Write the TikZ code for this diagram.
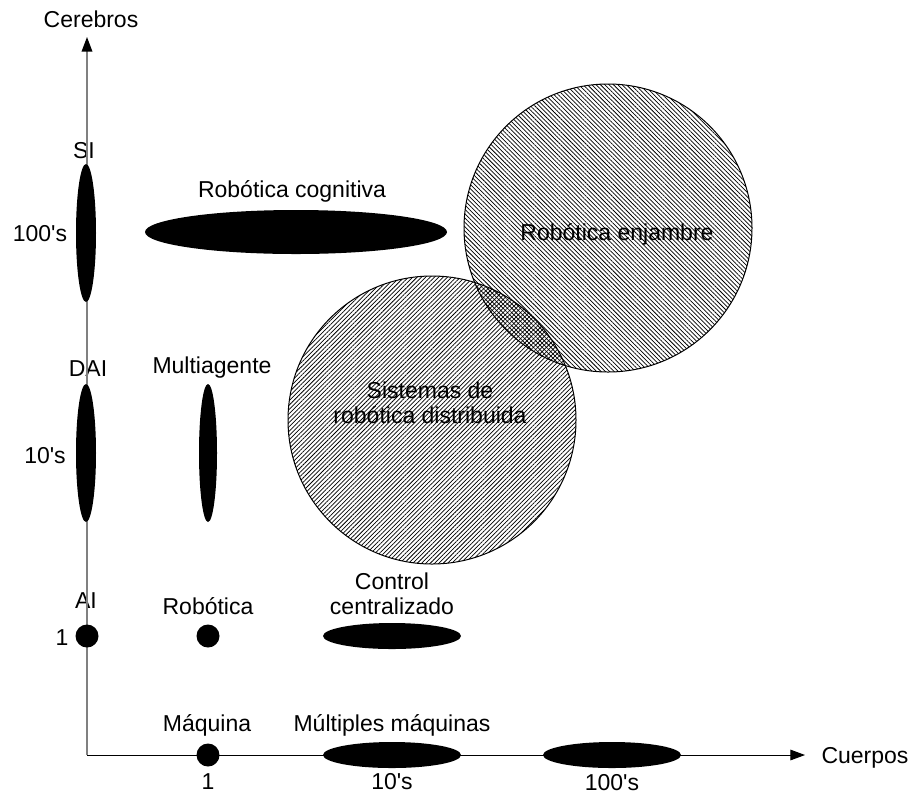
\documentclass[tikz,border=0pt]{standalone}
\usepackage{fontspec}
\setmainfont{Liberation Sans}
\usetikzlibrary{shapes.geometric,patterns.meta,arrows.meta}
\begin{document}
\begin{tikzpicture}[x=0.75pt,y=-0.75pt,
  lbl/.style={anchor=base,inner sep=0pt,font=\fontsize{17.25}{25}\selectfont},
  blob/.style={ellipse,fill=black,inner sep=0pt},
  vblob/.style={blob,minimum width=15pt,minimum height=103.5pt},
  hblob/.style={blob,minimum width=103.5pt,minimum height=19.5pt},
  dot/.style={circle,fill=black,inner sep=0pt,minimum size=17.25pt},
  area/.style={circle,draw=black,line width=0.75pt,inner sep=0pt,minimum size=216pt},
  tip/.style={-{Triangle[length=11pt,width=8pt,color=black]}}]
\useasboundingbox (0,0) rectangle (913,794);
% labels
\node[lbl] (cerebros) at (91,27) {Cerebros};
\node[lbl] (cuerpos) at (865,763) {Cuerpos};
\node[lbl] (si) at (84,158) {SI};
\node[lbl] (dai) at (88,376) {DAI};
\node[lbl] (ai) at (86,608) {AI};
\node[lbl] (y100) at (40,241) {100\textquotesingle s};
\node[lbl] (y10) at (45,463) {10\textquotesingle s};
\node[lbl] (y1) at (62,645) {1};
\node[lbl] (x1) at (208,789) {1};
\node[lbl] (x10) at (392,789) {10\textquotesingle s};
\node[lbl] (x100) at (612,790) {100\textquotesingle s};
\node[lbl] (lcog) at (292,197) {Robótica cognitiva};
\node[lbl] (lmulti) at (212,373) {Multiagente};
\node[lbl] (lrob) at (208,614) {Robótica};
\node[lbl] (lctrl1) at (392,589) {Control};
\node[lbl] (lctrl2) at (392,614) {centralizado};
\node[lbl] (lmaq) at (207,731) {Máquina};
\node[lbl] (lmult) at (392,731) {Múltiples máquinas};
% axes
\coordinate (O) at (87,755);
\coordinate (ytip) at (87,37);
\coordinate (xtip) at (805,755);
\draw[gray,line width=1.1pt,tip] (O) -- (ytip);
\draw[black,line width=0.75pt,tip] (O) -- (xtip);
% blobs
\node[vblob] (siblob) at (86,233) {};
\node[vblob] (daiblob) at (86,453) {};
\node[dot] (aidot) at (87,636) {};
\node[vblob,minimum width=13.5pt] (multiblob) at (208,453) {};
\node[dot] (robdot) at (208,636) {};
\node[hblob] (ctrlblob) at (392,636) {};
\node[dot] (maqdot) at (208,755) {};
\node[hblob] (multblob) at (392,755) {};
\node[hblob] (blob100) at (612,755) {};
\node[blob,minimum width=226.5pt,minimum height=33pt] (cogblob) at (296,232) {};
% hatched areas
\node[area,pattern={Lines[angle=45,distance=2.3pt,line width=0.55pt]}] (dist) at (432,420) {};
\node[area,pattern={Lines[angle=-45,distance=2.3pt,line width=0.55pt]}] (swarm) at (608,228) {};
\node[lbl] (ldist1) at (430,398) {Sistemas de};
\node[lbl] (ldist2) at (430,423) {robótica distribuida};
\node[lbl] (lswarm) at (617,240) {Robótica enjambre};
\end{tikzpicture}
\end{document}
